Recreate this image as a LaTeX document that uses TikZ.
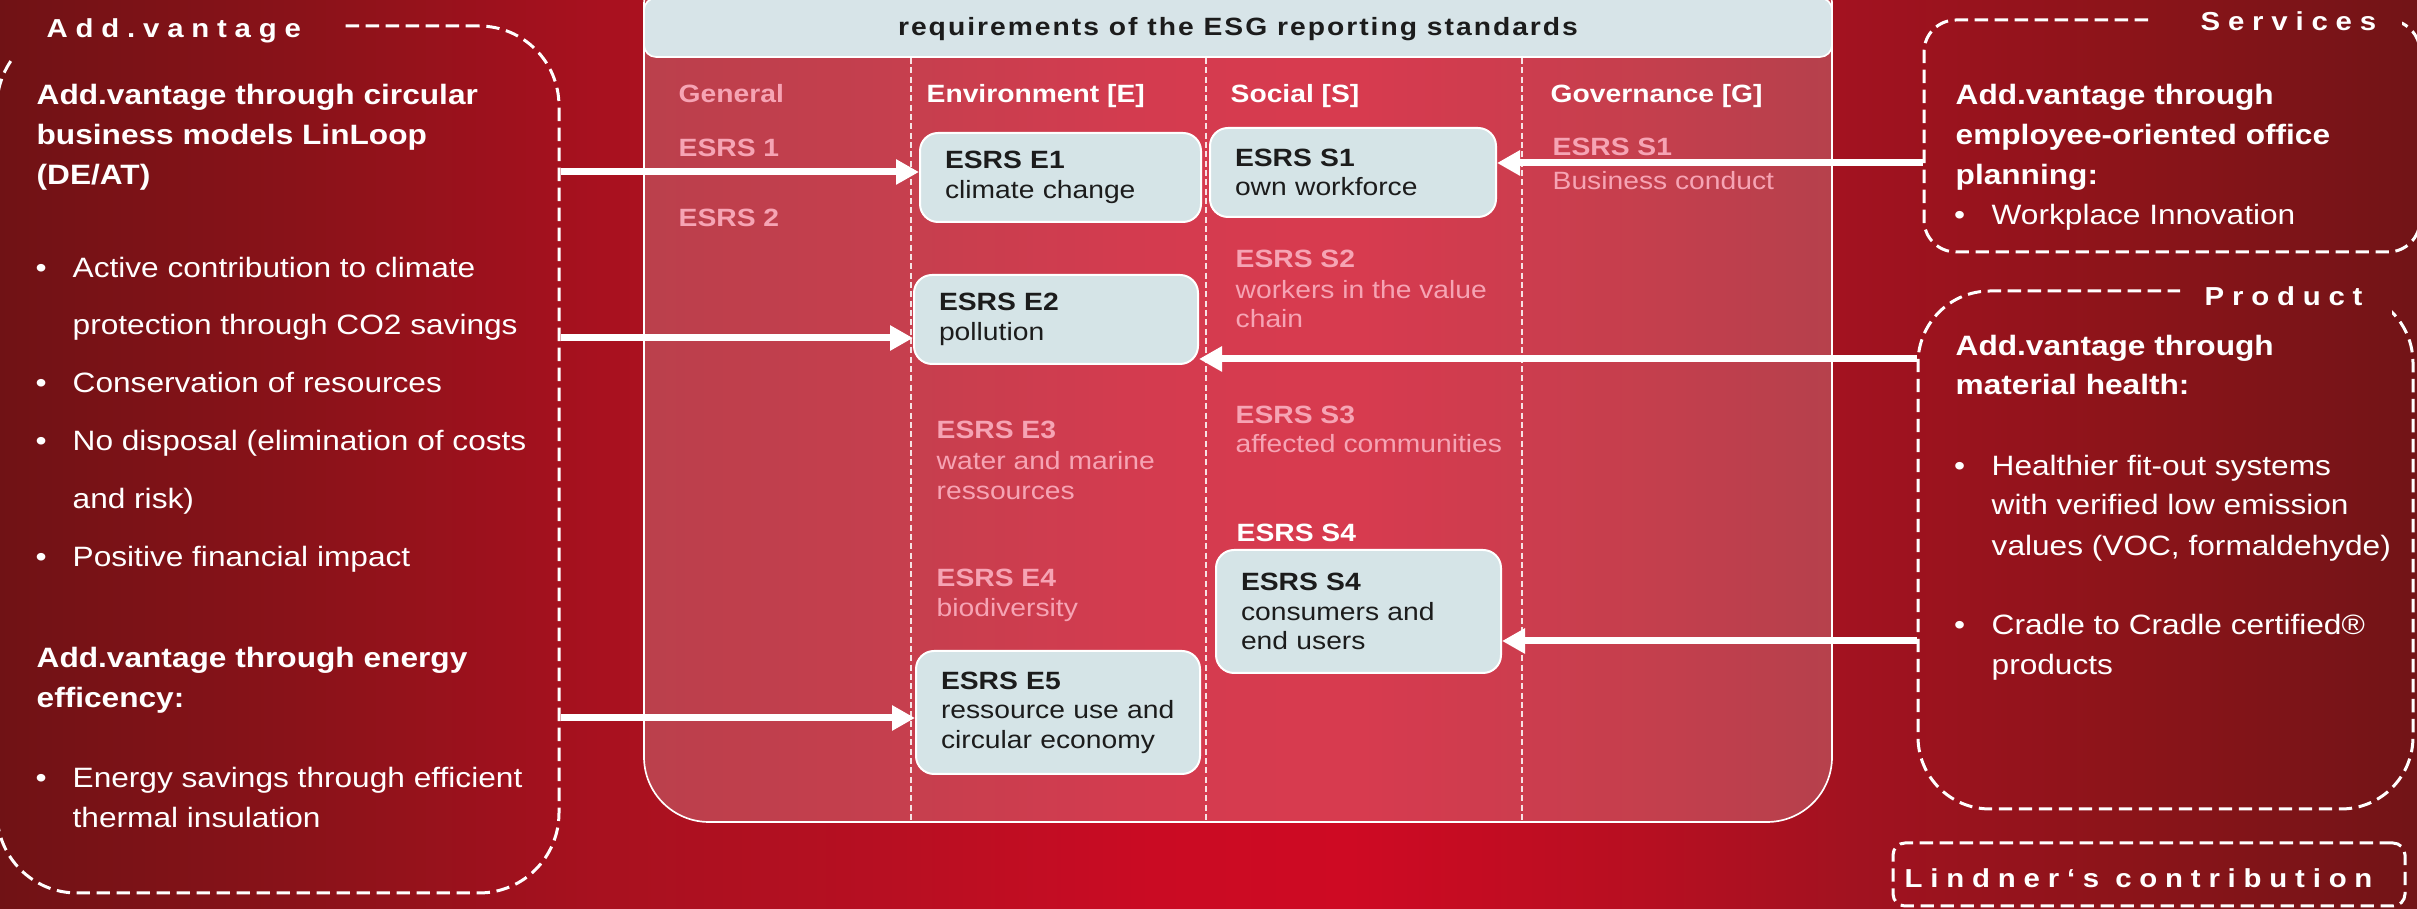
\documentclass[tikz,border=0pt]{standalone}
\usepackage{fontspec}
\setmainfont{Liberation Sans}[FakeStretch=1.13]
\newfontfamily\labfont{Liberation Sans}[FakeStretch=1.13,LetterSpace=30]
\newfontfamily\hdfont{Liberation Sans}[FakeStretch=1.13,LetterSpace=8]
\usetikzlibrary{arrows.meta}
\definecolor{bgA}{HTML}{701215}
\definecolor{bgB}{HTML}{8A1219}
\definecolor{bgC}{HTML}{A8111F}
\definecolor{bgD}{HTML}{B80F22}
\definecolor{bgE}{HTML}{CA0B23}
\definecolor{bgF}{HTML}{CE0A23}
\definecolor{bgG}{HTML}{B60F21}
\definecolor{bgH}{HTML}{A21220}
\definecolor{bgI}{HTML}{8A1419}
\definecolor{bgJ}{HTML}{721417}
\definecolor{boxfill}{HTML}{D5E4E7}
\definecolor{hdfill}{HTML}{D7E4E8}
\definecolor{fade}{HTML}{F6A4B4}
\definecolor{ink}{HTML}{1C1C1C}
\tikzset{
  tx/.style={inner sep=0pt, anchor=base west, text=white, font=\fontsize{8.4}{10}\selectfont},
  txb/.style={tx, font=\fontsize{8.4}{10}\selectfont\bfseries},
  lab/.style={inner sep=0pt, anchor=base west, text=white, font=\labfont\fontsize{7.8}{9}\selectfont\bfseries},
  colh/.style={inner sep=0pt, anchor=base west, text=white, font=\fontsize{7.5}{9}\selectfont\bfseries},
  fd/.style={inner sep=0pt, anchor=base west, text=fade, font=\fontsize{7.5}{9}\selectfont},
  fdb/.style={fd, font=\fontsize{7.5}{9}\selectfont\bfseries},
  esrs/.style={draw=white, line width=0.6pt, fill=boxfill, rounded corners=5.4pt, text=ink,
    font=\fontsize{7.5}{8.85}\selectfont, align=left, inner xsep=7.5pt, inner ysep=0pt},
  dbox/.style={draw=white, line width=0.9pt, dash pattern=on 4pt off 2pt, inner sep=0pt},
  arr/.style={draw=white, line width=2.1pt, -{Triangle[length=6.9pt,width=7.2pt]}},
  divl/.style={draw=white, draw opacity=0.85, line width=0.4pt, dash pattern=on 1.8pt off 1pt},
}
\begin{document}
\begin{tikzpicture}[x=0.3pt, y=-0.3pt]
\useasboundingbox (0,0) rectangle (2417,909);
% background
\fill[left color=bgA, right color=bgB] (-1,0) rectangle (301,909);
\fill[left color=bgB, right color=bgC] (300,0) rectangle (601,909);
\fill[left color=bgC, right color=bgD] (600,0) rectangle (901,909);
\fill[left color=bgD, right color=bgE] (900,0) rectangle (1151,909);
\fill[left color=bgE, right color=bgF] (1150,0) rectangle (1351,909);
\fill[left color=bgF, right color=bgG] (1350,0) rectangle (1651,909);
\fill[left color=bgG, right color=bgH] (1650,0) rectangle (1851,909);
\fill[left color=bgH, right color=bgI] (1850,0) rectangle (2151,909);
\fill[left color=bgI, right color=bgJ] (2150,0) rectangle (2418,909);

% central panel
\node[draw=white, line width=0.5pt, fill=white, fill opacity=0.2, rounded corners=19.5pt,
  minimum width=356.4pt, minimum height=264.6pt, inner sep=0pt] (panel) at (1238,381) {};
\node[draw=white, line width=0.5pt, fill=hdfill, rounded corners=3.6pt, minimum width=356.4pt,
  minimum height=17.7pt, inner sep=0pt, text=ink, font=\hdfont\fontsize{7.5}{9}\selectfont\bfseries,
  text height=6.6pt, text depth=1.6pt] (head) at (1238,27.5) {requirements of the ESG reporting standards};
\draw[divl] (911,58) -- (911,821);
\draw[divl] (1206,58) -- (1206,821);
\draw[divl] (1522,58) -- (1522,821);

% column headers
\node[fdb] (cgen) at (678,103) {General};
\node[colh] (cenv) at (926,103) {Environment [E]};
\node[colh] (csoc) at (1230,103) {Social [S]};
\node[colh] (cgov) at (1550,103) {Governance [G]};
% faded items
\node[fdb] (g1) at (678,157) {ESRS 1};
\node[fdb] (g2) at (678,227) {ESRS 2};
\node[fdb] (gv1) at (1552,156) {ESRS S1};
\node[fd] (gv2) at (1552,190) {Business conduct};
\node[fdb] (s2a) at (1235,268) {ESRS S2};
\node[fd] (s2b) at (1235,299) {workers in the value};
\node[fd] (s2c) at (1235,328) {chain};
\node[fdb] (s3a) at (1235,424) {ESRS S3};
\node[fd] (s3b) at (1235,453) {affected communities};
\node[colh, anchor=base west] (s4h) at (1236,542) {ESRS S4};
\node[fdb] (e3a) at (936,439) {ESRS E3};
\node[fd] (e3b) at (936,470) {water and marine};
\node[fd] (e3c) at (936,500) {ressources};
\node[fdb] (e4a) at (936,587) {ESRS E4};
\node[fd] (e4b) at (936,617) {biodiversity};

% highlighted boxes
\node[esrs, text width=69.3pt, minimum height=26.7pt] (E1) at (1060.5,177.5) {\textbf{ESRS E1}\\climate change};
\node[esrs, text width=70.8pt, minimum height=26.7pt] (S1) at (1353,172.5) {\textbf{ESRS S1}\\own workforce};
\node[esrs, text width=70.2pt, minimum height=26.7pt] (E2) at (1056,319.5) {\textbf{ESRS E2}\\pollution};
\node[esrs, text width=70.5pt, minimum height=36.9pt] (S4) at (1358.5,611.5) {\textbf{ESRS S4}\\consumers and\\end users};
\node[esrs, text width=70.2pt, minimum height=36.9pt] (E5) at (1058,712.5) {\textbf{ESRS E5}\\\mbox{ressource use and}\\\mbox{circular economy}};

% dashed outline boxes (gaps behind their labels)
\begin{scope}
\clip (-10,-10) -- (2430,-10) -- (2430,920) -- (-10,920) -- cycle
      (13,-10) -- (13,60) -- (345,60) -- (345,-10) -- cycle
      (2150,-10) -- (2150,45) -- (2402,45) -- (2402,-10) -- cycle
      (2180,270) -- (2180,316) -- (2392,316) -- (2392,270) -- cycle;
\node[dbox, minimum width=168.6pt, minimum height=260.1pt, rounded corners=24pt] (lbox) at (278,459.5) {};
\node[dbox, minimum width=148.8pt, minimum height=69.6pt, rounded corners=9.6pt] (serv) at (2172,136) {};
\node[dbox, minimum width=148.5pt, minimum height=155.4pt, rounded corners=21.6pt] (prod) at (2165.5,550) {};
\end{scope}
\node[dbox, minimum width=153.6pt, minimum height=18.9pt, rounded corners=3.6pt] (lind) at (2149,874.5) {};

% arrows
\coordinate (ya) at (0,172);
\coordinate (yb) at (0,338);
\coordinate (yc) at (0,718);
\coordinate (yd) at (0,163);
\coordinate (ye) at (0,359);
\coordinate (yf) at (0,641);
\draw[arr] (lbox.east |- ya) -- (E1.west |- ya);
\draw[arr] (lbox.east |- yb) -- (E2.west |- yb);
\draw[arr] (lbox.east |- yc) -- (E5.west |- yc);
\draw[arr] (serv.west |- yd) -- (S1.east |- yd);
\draw[arr] (prod.west |- ye) -- (E2.east |- ye);
\draw[arr] (prod.west |- yf) -- (S4.east |- yf);

% labels
\node[lab] (lAdd) at (46,38) {Add.vantage};
\node[lab] (lServ) at (2200,31) {Services};
\node[lab] (lProd) at (2204,306) {Product};
\node[lab] (lLind) at (1904,888) {Lindner‘s contribution};

% left texts
\node[txb] (h1a) at (36,105) {Add.vantage through circular};
\node[txb] (h1b) at (36,145) {business models LinLoop};
\node[txb] (h1c) at (36,185) {(DE/AT)};
\node[tx] (lb1) at (35,278) {•};
\node[tx] (lt1) at (72,278) {Active contribution to climate};
\node[tx] (lt2) at (72,335) {protection through CO2 savings};
\node[tx] (lb2) at (35,393) {•};
\node[tx] (lt3) at (72,393) {Conservation of resources};
\node[tx] (lb3) at (35,451) {•};
\node[tx] (lt4) at (72,451) {No disposal (elimination of costs};
\node[tx] (lt5) at (72,509) {and risk)};
\node[tx] (lb4) at (35,567) {•};
\node[tx] (lt6) at (72,567) {Positive financial impact};
\node[txb] (h2a) at (36,668) {Add.vantage through energy};
\node[txb] (h2b) at (36,708) {efficency:};
\node[tx] (lb5) at (35,788) {•};
\node[tx] (lt7) at (72,788) {Energy savings through efficient};
\node[tx] (lt8) at (72,828) {thermal insulation};

% services texts
\node[txb] (sv1) at (1955,105) {Add.vantage through};
\node[txb] (sv2) at (1955,145) {employee-oriented office};
\node[txb] (sv3) at (1955,185) {planning:};
\node[tx] (svb) at (1953.5,225) {•};
\node[tx] (sv4) at (1991,225) {Workplace Innovation};

% product texts
\node[txb] (pr1) at (1955,356) {Add.vantage through};
\node[txb] (pr2) at (1955,395) {material health:};
\node[tx] (prb1) at (1953.5,476) {•};
\node[tx] (pr3) at (1991,476) {Healthier fit-out systems};
\node[tx] (pr4) at (1991,515) {with verified low emission};
\node[tx] (pr5) at (1991,556) {values (VOC, formaldehyde)};
\node[tx] (prb2) at (1953.5,635) {•};
\node[tx] (pr6) at (1991,635) {Cradle to Cradle certified®};
\node[tx] (pr7) at (1991,675) {products};
\end{tikzpicture}
\end{document}
